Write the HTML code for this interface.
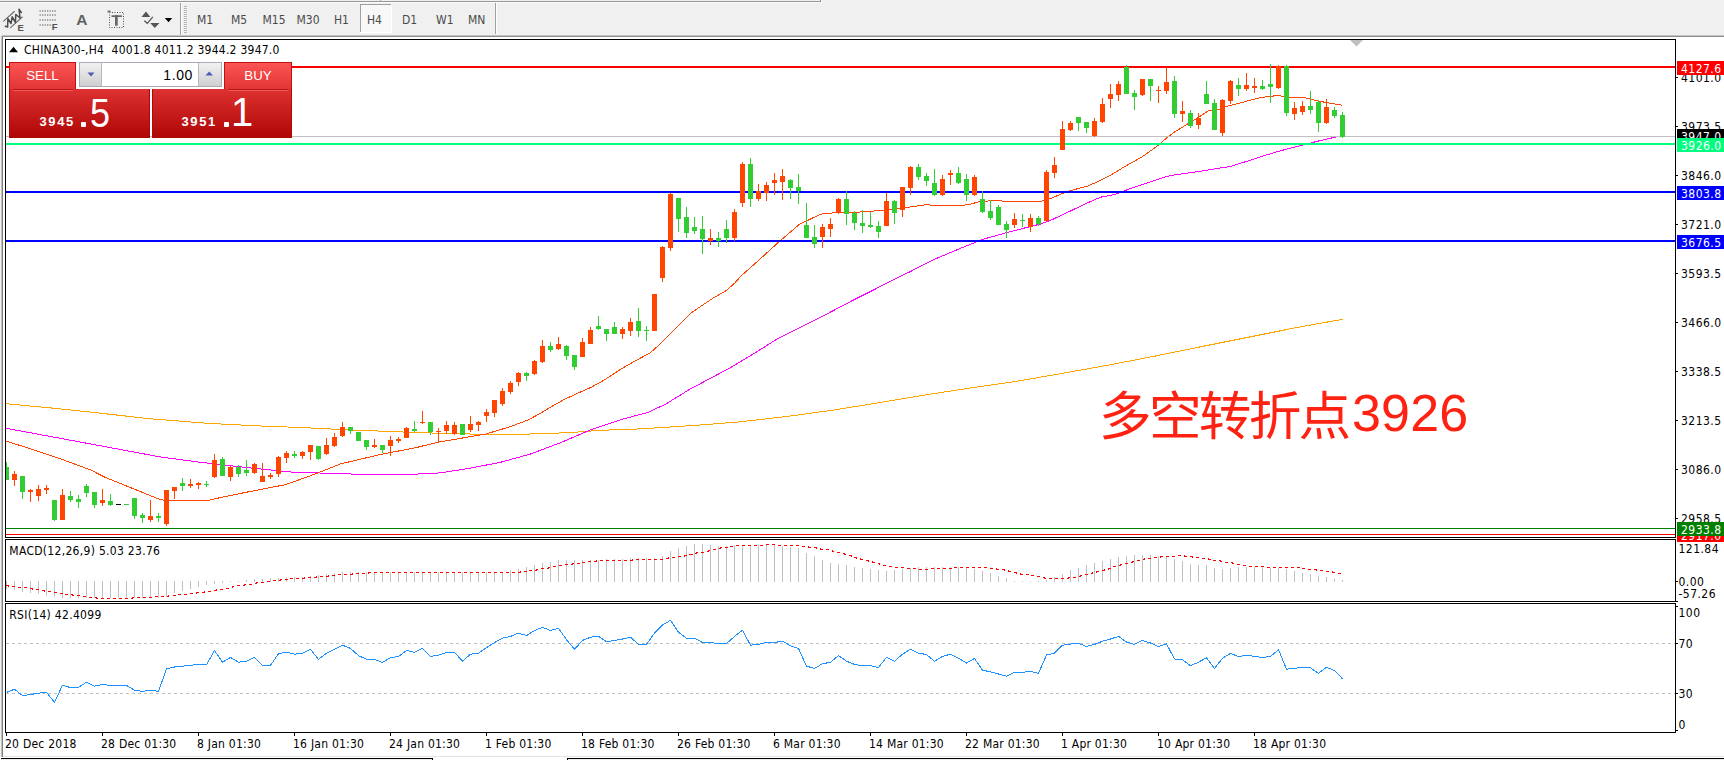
<!DOCTYPE html>
<html lang="en"><head><meta charset="utf-8"><title>CHINA300-,H4</title>
<style>
html,body{margin:0;padding:0;}
body{width:1724px;height:760px;overflow:hidden;background:#fff;position:relative;font-family:"Liberation Sans",sans-serif;font-size:12px;color:#000;}
.abs{position:absolute;}
.t{position:absolute;white-space:nowrap;line-height:14px;height:14px;font-size:12px;letter-spacing:0.25px;color:#000;font-family:"DejaVu Sans Condensed","DejaVu Sans","Liberation Sans",sans-serif;font-stretch:condensed;}
.ax{position:absolute;left:1681px;white-space:nowrap;line-height:14px;height:14px;font-size:12px;letter-spacing:0.45px;color:#000;font-family:"DejaVu Sans Condensed","DejaVu Sans","Liberation Sans",sans-serif;font-stretch:condensed;}
.lb{position:absolute;left:1677px;width:47px;height:14px;line-height:16px;font-size:12px;letter-spacing:0.45px;color:#fff;white-space:nowrap;text-indent:4px;overflow:hidden;font-family:"DejaVu Sans Condensed","DejaVu Sans","Liberation Sans",sans-serif;font-stretch:condensed;}
.tf{position:absolute;top:12px;height:16px;line-height:16px;font-size:12px;color:#4a4a4a;white-space:nowrap;font-family:"DejaVu Sans Condensed","DejaVu Sans","Liberation Sans",sans-serif;font-stretch:condensed;}
.dt{position:absolute;top:737px;white-space:nowrap;line-height:14px;height:14px;font-size:12px;letter-spacing:0.24px;color:#000;font-family:"DejaVu Sans Condensed","DejaVu Sans","Liberation Sans",sans-serif;font-stretch:condensed;}
svg{position:absolute;left:0;top:0;}
</style></head>
<body>
<div class="abs" style="left:0;top:0;width:1724px;height:35px;background:#f0f0f0;"></div>
<div class="abs" style="left:0;top:1px;width:821px;height:1px;background:#989898;"></div>
<div class="abs" style="left:0;top:2px;width:822px;height:1px;background:#fbfbfb;"></div>
<div class="abs" style="left:380px;top:0;width:1px;height:2px;background:#a6a6a6;"></div>
<div class="abs" style="left:820px;top:0;width:1px;height:2px;background:#909090;"></div>
<div class="abs" style="left:821px;top:0;width:1px;height:3px;background:#fbfbfb;"></div>
<div class="abs" style="left:0;top:35px;width:1724px;height:1px;background:#c4c4c4;"></div>
<div class="abs" style="left:0;top:36px;width:1724px;height:1px;background:#8c8c8c;"></div>
<div class="abs" style="left:0;top:35px;width:2px;height:722px;background:#f0f0f0;"></div>
<div class="abs" style="left:1px;top:36px;width:1px;height:721px;background:#c0c0c0;"></div>
<div class="abs" style="left:2px;top:36px;width:1px;height:721px;background:#808080;"></div>
<div class="abs" style="left:3px;top:756px;width:1721px;height:1px;background:#e3e3e3;"></div>
<div class="abs" style="left:1px;top:758px;width:432px;height:1px;background:#000;"></div>
<div class="abs" style="left:432px;top:758px;width:1px;height:2px;background:#000;"></div>
<div class="abs" style="left:567px;top:758px;width:1157px;height:1px;background:#000;"></div>
<div class="abs" style="left:567px;top:758px;width:1px;height:2px;background:#000;"></div>
<div class="abs" style="left:0;top:759px;width:432px;height:1px;background:#f0f0f0;"></div>
<div class="abs" style="left:568px;top:759px;width:1156px;height:1px;background:#f0f0f0;"></div>
<svg width="520" height="36" viewBox="0 0 520 36"><g fill="none" stroke-linecap="round" stroke-linejoin="round"><path d="M3.6 21.2 L14.4 11.5 M10.5 27.7 L22.3 17" stroke="#6a6a6a" stroke-width="1.1"/><path d="M5.3 26.3 L7.6 27 L7.9 18.6 L11 23.5 L12.2 16.8 L15.4 22.4 L15.8 14.5 L20.1 18 L19 9.3 L21.3 12.5" stroke="#4c4c4c" stroke-width="1.5"/></g><line x1="39.5" y1="11" x2="56" y2="11" stroke="#505050" stroke-width="1.2" stroke-dasharray="1.3 1.2"/><line x1="39.5" y1="15" x2="56" y2="15" stroke="#505050" stroke-width="1.2" stroke-dasharray="1.3 1.2"/><line x1="39.5" y1="20" x2="56" y2="20" stroke="#505050" stroke-width="1.2" stroke-dasharray="1.3 1.2"/><line x1="39.5" y1="25" x2="51" y2="25" stroke="#505050" stroke-width="1.2" stroke-dasharray="1.3 1.2"/><rect x="109.5" y="12.5" width="14" height="15" fill="none" stroke="#555" stroke-width="1" stroke-dasharray="1 1.5"/><rect x="107.5" y="10.5" width="3" height="2" fill="#777"/><rect x="111.5" y="15.3" width="10.4" height="1.7" fill="#666"/><rect x="115" y="15.3" width="2.7" height="10.4" fill="#666"/><path d="M141.5 17 L146 11.5 L150.3 17 Z" fill="#555"/><path d="M150.2 23 L159.5 23 L154.8 28 Z" fill="#555"/><path d="M144.3 20.8 L147.3 23.3 L152.8 16.8" fill="none" stroke="#555" stroke-width="1.3"/><path d="M164.8 18 L172.2 18 L168.5 22.2 Z" fill="#000"/><rect x="180" y="3" width="1" height="32" fill="#a0a0a0"/><rect x="181" y="3" width="1" height="32" fill="#fdfdfd"/><rect x="184" y="6" width="3" height="1" fill="#b4b4b4"/><rect x="184" y="8" width="3" height="1" fill="#b4b4b4"/><rect x="184" y="10" width="3" height="1" fill="#b4b4b4"/><rect x="184" y="12" width="3" height="1" fill="#b4b4b4"/><rect x="184" y="14" width="3" height="1" fill="#b4b4b4"/><rect x="184" y="16" width="3" height="1" fill="#b4b4b4"/><rect x="184" y="18" width="3" height="1" fill="#b4b4b4"/><rect x="184" y="20" width="3" height="1" fill="#b4b4b4"/><rect x="184" y="22" width="3" height="1" fill="#b4b4b4"/><rect x="184" y="24" width="3" height="1" fill="#b4b4b4"/><rect x="184" y="26" width="3" height="1" fill="#b4b4b4"/><rect x="184" y="28" width="3" height="1" fill="#b4b4b4"/><rect x="184" y="30" width="3" height="1" fill="#b4b4b4"/><rect x="184" y="32" width="3" height="1" fill="#b4b4b4"/><rect x="495" y="3" width="1" height="31" fill="#a0a0a0"/><rect x="496" y="3" width="1" height="31" fill="#fdfdfd"/><rect x="360" y="4" width="31" height="29" fill="#f8f8f8"/><rect x="360" y="4" width="31" height="1" fill="#a0a0a0"/><rect x="360" y="4" width="1" height="29" fill="#a0a0a0"/><rect x="391" y="4" width="1" height="29" fill="#fff"/><rect x="360" y="32" width="31" height="1" fill="#fff"/></svg>
<div class="abs" style="left:17.6px;top:22.6px;font-size:9.5px;font-weight:bold;line-height:10px;color:#505050;">E</div>
<div class="abs" style="left:51.8px;top:22.4px;font-size:9.5px;font-weight:bold;line-height:10px;color:#505050;">F</div>
<div class="abs" style="left:76.3px;top:10.6px;font-size:15.5px;font-weight:bold;line-height:18px;color:#606060;">A</div>
<div class="tf" style="left:197px;">M1</div>
<div class="tf" style="left:231px;">M5</div>
<div class="tf" style="left:262.5px;">M15</div>
<div class="tf" style="left:296.5px;">M30</div>
<div class="tf" style="left:334px;">H1</div>
<div class="tf" style="left:367px;">H4</div>
<div class="tf" style="left:402px;">D1</div>
<div class="tf" style="left:436px;">W1</div>
<div class="tf" style="left:468px;">MN</div>
<svg width="1724" height="760" viewBox="0 0 1724 760" shape-rendering="crispEdges"><rect x="3" y="37" width="1721" height="719" fill="#fff"/><path d="M1350 40 L1363 40 L1356.5 46.5 Z" fill="#c0c0c0" shape-rendering="auto"/><polyline fill="none" stroke="#ffa500" stroke-width="1" points="5.5,403.7 50.5,407.9 90.5,412.1 150.5,418.8 210.5,423.5 260.5,426.0 300.5,427.5 340.5,429.5 380.5,431.1 420.5,432.7 470.5,434.0 530.5,434.0 570.5,432.6 600.5,430.3 640.5,428.9 700.5,425.0 740.5,421.8 790.5,416.0 832.5,410.2 880.5,402.5 925.5,394.9 970.5,388.0 1018.5,381.0 1065.5,372.8 1110.5,364.7 1155.5,356.0 1203.5,346.2 1250.5,336.8 1296.5,327.6 1342.5,319.3"/><polyline fill="none" stroke="#ff00ff" stroke-width="1" points="5.5,428.2 50.5,436.5 100.5,445.8 160.5,457.0 200.5,462.3 250.5,468.0 290.5,472.0 340.5,473.7 380.5,474.9 410.5,474.4 440.5,472.9 470.5,468.1 500.5,462.3 530.5,454.0 560.5,442.7 590.5,429.9 620.5,419.7 647.9,412.4 665.0,404.5 688.9,389.8 729.9,367.9 757.3,351.5 777.8,338.5 798.3,328.2 825.7,314.6 853.1,300.2 880.4,286.5 911.2,271.1 935.1,259.0 962.5,247.5 983.0,239.3 1007.0,232.5 1030.5,226.5 1040.5,224.0 1050.5,220.4 1070.5,211.0 1085.5,203.7 1100.5,197.2 1115.5,194.3 1130.5,188.5 1145.5,183.5 1160.5,178.4 1170.5,175.5 1185.5,173.3 1200.5,171.2 1215.5,168.7 1230.5,166.5 1245.5,161.7 1260.5,156.7 1280.5,150.8 1300.5,145.6 1320.5,140.5 1342.5,135.5"/><polyline fill="none" stroke="#ff4500" stroke-width="1" points="5.5,440.9 30.5,448.8 62.5,459.6 90.5,469.9 105.5,477.5 135.5,489.6 158.5,498.9 165.5,500.7 207.5,500.7 220.5,497.5 245.5,492.4 270.5,487.5 285.5,484.7 315.5,473.9 340.5,463.9 380.5,454.5 416.5,447.5 438.5,442.1 485.5,434.1 509.0,427.1 528.1,420.0 540.9,413.0 553.5,405.4 565.1,399.0 579.2,392.6 591.9,386.9 604.5,379.9 619.5,370.0 635.3,360.8 650.1,352.9 659.0,345.0 666.9,337.1 680.7,323.3 690.5,313.4 700.5,306.5 712.3,298.6 726.1,290.7 735.0,282.8 740.5,276.5 758.5,260.5 777.5,243.1 799.5,224.3 820.5,214.2 835.5,212.7 860.5,212.0 880.5,210.5 905.5,207.7 925.5,204.8 950.5,205.9 968.5,204.8 980.5,201.2 1000.5,200.7 1005.5,201.9 1040.5,201.3 1050.5,198.7 1060.5,194.3 1067.5,191.4 1087.5,186.1 1095.5,182.7 1110.5,175.2 1125.5,166.1 1140.5,157.8 1145.5,154.5 1157.5,145.8 1168.5,136.4 1175.5,131.4 1187.5,124.1 1200.5,116.0 1208.5,110.7 1215.5,110.5 1227.5,106.2 1260.5,97.6 1278.5,95.4 1290.5,97.9 1305.5,97.9 1320.5,101.5 1342.5,105.2"/><rect x="6" y="66" width="1669" height="2" fill="#ff0000"/><rect x="6" y="136" width="1669" height="1" fill="#c0c0c0"/><rect x="6" y="143" width="1669" height="2" fill="#00ff7f"/><rect x="6" y="191" width="1669" height="2" fill="#0000ff"/><rect x="6" y="240" width="1669" height="2" fill="#0000ff"/><rect x="6" y="528" width="1669" height="1" fill="#008000"/><rect x="6" y="534" width="1669" height="1" fill="#ff0000"/><path fill="#ff4500" d="M12 474h5v6h-5zM14 471h1v15h-1zM28 490h5v2h-5zM30 489h1v13h-1zM36 489h5v7h-5zM38 485h1v16h-1zM44 488h5v2h-5zM46 485h1v9h-1zM60 495h5v25h-5zM62 489h1v31h-1zM100 500h5v3h-5zM102 489h1v17h-1zM148 516h5v4h-5zM150 500h1v22h-1zM164 490h5v34h-5zM166 490h1v36h-1zM172 487h5v4h-5zM174 487h1v12h-1zM188 484h5v2h-5zM190 479h1v9h-1zM196 483h5v2h-5zM198 482h1v7h-1zM212 460h5v17h-5zM214 454h1v24h-1zM228 467h5v10h-5zM230 466h1v15h-1zM252 464h5v9h-5zM254 463h1v11h-1zM260 476h5v6h-5zM262 463h1v19h-1zM268 475h5v2h-5zM270 473h1v6h-1zM276 457h5v17h-5zM278 456h1v21h-1zM284 453h5v5h-5zM286 451h1v12h-1zM300 452h5v4h-5zM302 451h1v8h-1zM308 445h5v7h-5zM310 445h1v15h-1zM324 445h5v9h-5zM326 438h1v17h-1zM332 437h5v9h-5zM334 433h1v14h-1zM340 427h5v9h-5zM342 422h1v15h-1zM372 445h5v2h-5zM374 439h1v9h-1zM388 440h5v6h-5zM390 436h1v20h-1zM396 439h5v2h-5zM398 437h1v6h-1zM404 428h5v10h-5zM406 427h1v11h-1zM420 422h5v1h-5zM422 411h1v13h-1zM436 431h5v1h-5zM438 428h1v14h-1zM444 425h5v6h-5zM446 421h1v13h-1zM452 425h5v9h-5zM454 422h1v13h-1zM468 424h5v6h-5zM470 416h1v16h-1zM476 422h5v3h-5zM478 421h1v10h-1zM484 412h5v4h-5zM486 409h1v13h-1zM492 400h5v13h-5zM494 400h1v17h-1zM500 391h5v13h-5zM502 388h1v18h-1zM508 383h5v9h-5zM510 381h1v13h-1zM516 373h5v9h-5zM518 372h1v14h-1zM532 361h5v13h-5zM534 360h1v15h-1zM540 346h5v16h-5zM542 340h1v23h-1zM556 344h5v5h-5zM558 337h1v13h-1zM580 342h5v15h-5zM582 338h1v19h-1zM588 330h5v14h-5zM590 327h1v17h-1zM620 329h5v5h-5zM622 327h1v12h-1zM628 322h5v9h-5zM630 318h1v18h-1zM652 294h5v37h-5zM660 247h5v31h-5zM662 246h1v36h-1zM668 194h5v54h-5zM670 193h1v58h-1zM708 238h5v3h-5zM710 229h1v16h-1zM732 212h5v26h-5zM734 209h1v32h-1zM740 164h5v39h-5zM742 162h1v45h-1zM756 191h5v8h-5zM758 184h1v17h-1zM764 185h5v8h-5zM766 182h1v19h-1zM772 180h5v3h-5zM774 173h1v22h-1zM780 176h5v6h-5zM782 169h1v31h-1zM820 227h5v10h-5zM822 224h1v24h-1zM828 224h5v5h-5zM830 218h1v19h-1zM836 199h5v14h-5zM838 198h1v16h-1zM884 201h5v25h-5zM886 193h1v33h-1zM900 187h5v23h-5zM902 187h1v30h-1zM908 167h5v21h-5zM910 166h1v29h-1zM940 179h5v16h-5zM942 175h1v21h-1zM948 173h5v2h-5zM950 170h1v15h-1zM972 177h5v18h-5zM974 175h1v21h-1zM1012 219h5v6h-5zM1014 213h1v15h-1zM1028 218h5v9h-5zM1030 214h1v18h-1zM1044 172h5v49h-5zM1046 170h1v51h-1zM1052 165h5v8h-5zM1054 157h1v21h-1zM1060 129h5v21h-5zM1062 121h1v29h-1zM1068 123h5v7h-5zM1070 121h1v10h-1zM1092 121h5v15h-5zM1094 118h1v19h-1zM1100 104h5v18h-5zM1102 98h1v25h-1zM1108 94h5v5h-5zM1110 84h1v24h-1zM1116 84h5v11h-5zM1118 81h1v20h-1zM1140 79h5v16h-5zM1142 79h1v17h-1zM1156 90h5v1h-5zM1158 86h1v17h-1zM1164 82h5v9h-5zM1166 67h1v27h-1zM1180 111h5v3h-5zM1182 101h1v21h-1zM1196 118h5v7h-5zM1198 113h1v16h-1zM1220 100h5v33h-5zM1222 99h1v37h-1zM1228 81h5v20h-5zM1230 80h1v24h-1zM1244 85h5v4h-5zM1246 73h1v18h-1zM1252 86h5v2h-5zM1254 78h1v15h-1zM1276 66h5v22h-5zM1278 65h1v24h-1zM1292 108h5v6h-5zM1294 102h1v18h-1zM1300 106h5v6h-5zM1302 101h1v14h-1zM1324 107h5v16h-5zM1326 99h1v25h-1z"/><path fill="#32cd32" d="M6 467h3v13h-3zM6 462h1v18h-1zM20 476h5v16h-5zM22 476h1v23h-1zM52 500h5v20h-5zM54 500h1v21h-1zM68 496h5v4h-5zM70 491h1v11h-1zM76 499h5v3h-5zM78 495h1v13h-1zM84 486h5v7h-5zM86 484h1v13h-1zM92 492h5v13h-5zM94 492h1v16h-1zM108 501h5v4h-5zM110 494h1v12h-1zM124 504h5v1h-5zM132 498h5v18h-5zM134 498h1v21h-1zM140 515h5v3h-5zM142 513h1v10h-1zM156 516h5v2h-5zM158 513h1v9h-1zM180 483h5v3h-5zM182 478h1v13h-1zM204 484h5v1h-5zM206 481h1v6h-1zM220 459h5v17h-5zM222 457h1v19h-1zM236 467h5v7h-5zM238 465h1v12h-1zM244 470h5v3h-5zM246 460h1v16h-1zM292 454h5v2h-5zM294 451h1v7h-1zM316 446h5v13h-5zM318 446h1v14h-1zM348 427h5v4h-5zM350 427h1v7h-1zM356 432h5v9h-5zM364 440h5v7h-5zM366 440h1v10h-1zM380 445h5v5h-5zM382 445h1v8h-1zM412 429h5v2h-5zM414 421h1v11h-1zM428 422h5v10h-5zM430 422h1v13h-1zM460 424h5v11h-5zM524 373h5v3h-5zM526 372h1v9h-1zM548 346h5v4h-5zM550 342h1v10h-1zM564 346h5v10h-5zM566 345h1v15h-1zM572 355h5v12h-5zM574 355h1v15h-1zM596 326h5v3h-5zM598 316h1v14h-1zM604 329h5v5h-5zM606 329h1v12h-1zM612 327h5v7h-5zM614 322h1v12h-1zM636 321h5v10h-5zM638 308h1v29h-1zM644 330h5v1h-5zM646 326h1v15h-1zM676 198h5v21h-5zM678 198h1v34h-1zM684 217h5v16h-5zM686 207h1v31h-1zM692 227h5v4h-5zM694 217h1v17h-1zM700 229h5v10h-5zM702 216h1v38h-1zM716 238h5v3h-5zM718 232h1v15h-1zM724 229h5v9h-5zM726 220h1v23h-1zM748 164h5v35h-5zM750 158h1v49h-1zM788 180h5v8h-5zM790 179h1v20h-1zM796 187h5v4h-5zM798 174h1v30h-1zM804 225h5v13h-5zM806 203h1v35h-1zM812 237h5v7h-5zM814 225h1v23h-1zM844 199h5v15h-5zM846 191h1v34h-1zM852 213h5v10h-5zM854 211h1v19h-1zM860 223h5v3h-5zM862 210h1v23h-1zM868 225h5v2h-5zM870 212h1v16h-1zM876 226h5v6h-5zM878 221h1v17h-1zM892 201h5v12h-5zM894 200h1v24h-1zM916 167h5v10h-5zM918 164h1v16h-1zM924 176h5v5h-5zM926 173h1v13h-1zM932 183h5v12h-5zM934 169h1v27h-1zM956 173h5v10h-5zM958 167h1v17h-1zM964 179h5v16h-5zM966 174h1v27h-1zM980 199h5v13h-5zM982 191h1v22h-1zM988 211h5v7h-5zM990 200h1v20h-1zM996 207h5v18h-5zM998 205h1v20h-1zM1004 224h5v6h-5zM1006 221h1v17h-1zM1020 220h5v1h-5zM1022 214h1v13h-1zM1036 218h5v6h-5zM1038 216h1v10h-1zM1076 117h5v6h-5zM1078 117h1v14h-1zM1084 122h5v6h-5zM1086 122h1v11h-1zM1124 67h5v27h-5zM1126 65h1v29h-1zM1132 93h5v4h-5zM1134 90h1v20h-1zM1148 79h5v7h-5zM1150 79h1v22h-1zM1172 81h5v33h-5zM1174 76h1v42h-1zM1188 113h5v13h-5zM1190 110h1v18h-1zM1204 94h5v10h-5zM1206 81h1v23h-1zM1212 103h5v27h-5zM1214 99h1v31h-1zM1236 85h5v4h-5zM1238 78h1v18h-1zM1260 86h5v3h-5zM1262 80h1v10h-1zM1268 84h5v3h-5zM1270 64h1v39h-1zM1284 66h5v47h-5zM1286 65h1v51h-1zM1308 106h5v4h-5zM1310 91h1v23h-1zM1316 102h5v21h-5zM1318 100h1v32h-1zM1332 110h5v6h-5zM1334 107h1v11h-1zM1340 115h5v22h-5zM1342 112h1v26h-1z"/><path fill="#000" d="M116 504h5v1h-5z"/><path fill="#c0c0c0" d="M6 581h1v8h-1zM14 581h1v9h-1zM22 581h1v11h-1zM30 581h1v12h-1zM38 581h1v13h-1zM46 581h1v15h-1zM54 581h1v16h-1zM62 581h1v17h-1zM70 581h1v17h-1zM78 581h1v17h-1zM86 581h1v17h-1zM94 581h1v17h-1zM102 581h1v17h-1zM110 581h1v17h-1zM118 581h1v17h-1zM126 581h1v17h-1zM134 581h1v17h-1zM142 581h1v17h-1zM150 581h1v17h-1zM158 581h1v17h-1zM166 581h1v16h-1zM174 581h1v12h-1zM182 581h1v10h-1zM190 581h1v8h-1zM198 581h1v6h-1zM206 581h1v4h-1zM214 581h1v3h-1zM222 581h1v2h-1zM230 581h1v1h-1zM238 581h1v1h-1zM246 580h1v2h-1zM254 579h1v3h-1zM262 579h1v3h-1zM270 578h1v4h-1zM278 578h1v4h-1zM286 577h1v5h-1zM294 577h1v5h-1zM302 577h1v5h-1zM310 576h1v6h-1zM318 575h1v7h-1zM326 574h1v8h-1zM334 573h1v9h-1zM342 572h1v10h-1zM350 572h1v10h-1zM358 572h1v10h-1zM366 572h1v10h-1zM374 572h1v10h-1zM382 572h1v10h-1zM390 572h1v10h-1zM398 572h1v10h-1zM406 572h1v10h-1zM414 572h1v10h-1zM422 572h1v10h-1zM430 572h1v10h-1zM438 572h1v10h-1zM446 572h1v10h-1zM454 572h1v10h-1zM462 572h1v10h-1zM470 572h1v10h-1zM478 572h1v10h-1zM486 572h1v10h-1zM494 572h1v10h-1zM502 572h1v10h-1zM510 570h1v12h-1zM518 569h1v13h-1zM526 567h1v15h-1zM534 565h1v17h-1zM542 563h1v19h-1zM550 562h1v20h-1zM558 560h1v22h-1zM566 560h1v22h-1zM574 560h1v22h-1zM582 560h1v22h-1zM590 560h1v22h-1zM598 560h1v22h-1zM606 559h1v23h-1zM614 559h1v23h-1zM622 559h1v23h-1zM630 558h1v24h-1zM638 558h1v24h-1zM646 558h1v24h-1zM654 558h1v24h-1zM662 556h1v26h-1zM670 551h1v31h-1zM678 548h1v34h-1zM686 546h1v36h-1zM694 544h1v38h-1zM702 544h1v38h-1zM710 545h1v37h-1zM718 546h1v36h-1zM726 546h1v36h-1zM734 545h1v37h-1zM742 545h1v37h-1zM750 545h1v37h-1zM758 545h1v37h-1zM766 544h1v38h-1zM774 545h1v37h-1zM782 546h1v36h-1zM790 547h1v35h-1zM798 548h1v34h-1zM806 553h1v29h-1zM814 556h1v26h-1zM822 560h1v22h-1zM830 563h1v19h-1zM838 564h1v18h-1zM846 565h1v17h-1zM854 567h1v15h-1zM862 568h1v14h-1zM870 569h1v13h-1zM878 570h1v12h-1zM886 571h1v11h-1zM894 570h1v12h-1zM902 569h1v13h-1zM910 568h1v14h-1zM918 567h1v15h-1zM926 567h1v15h-1zM934 567h1v15h-1zM942 567h1v15h-1zM950 567h1v15h-1zM958 567h1v15h-1zM966 567h1v15h-1zM974 569h1v13h-1zM982 571h1v11h-1zM990 573h1v9h-1zM998 576h1v6h-1zM1006 578h1v4h-1zM1014 581h1v1h-1zM1022 581h1v1h-1zM1030 581h1v1h-1zM1038 581h1v1h-1zM1046 580h1v2h-1zM1054 577h1v5h-1zM1062 574h1v8h-1zM1070 570h1v12h-1zM1078 568h1v14h-1zM1086 565h1v17h-1zM1094 563h1v19h-1zM1102 561h1v21h-1zM1110 559h1v23h-1zM1118 557h1v25h-1zM1126 556h1v26h-1zM1134 555h1v27h-1zM1142 555h1v27h-1zM1150 555h1v27h-1zM1158 556h1v26h-1zM1166 557h1v25h-1zM1174 559h1v23h-1zM1182 561h1v21h-1zM1190 564h1v18h-1zM1198 565h1v17h-1zM1206 565h1v17h-1zM1214 568h1v14h-1zM1222 569h1v13h-1zM1230 568h1v14h-1zM1238 567h1v15h-1zM1246 567h1v15h-1zM1254 567h1v15h-1zM1262 567h1v15h-1zM1270 568h1v14h-1zM1278 568h1v14h-1zM1286 569h1v13h-1zM1294 571h1v11h-1zM1302 573h1v9h-1zM1310 574h1v8h-1zM1318 576h1v6h-1zM1326 577h1v5h-1zM1334 579h1v3h-1zM1342 580h1v2h-1z"/><polyline fill="none" stroke="#ff0000" stroke-width="1" stroke-dasharray="3 3" points="6.5,585.5 10.5,586.5 14.5,586.5 18.5,587.5 22.5,587.5 26.5,587.5 30.5,588.5 34.5,589.5 38.5,589.5 42.5,590.5 46.5,591.5 50.5,591.5 54.5,592.5 58.5,593.5 62.5,593.5 66.5,594.5 70.5,594.5 74.5,595.5 78.5,595.5 82.5,596.5 86.5,596.5 90.5,597.5 94.5,597.5 98.5,598.5 102.5,598.5 106.5,598.5 110.5,598.5 114.5,598.5 118.5,598.5 122.5,598.5 126.5,598.5 130.5,598.5 134.5,597.5 138.5,597.5 142.5,597.5 146.5,597.5 150.5,597.5 154.5,596.5 158.5,596.5 162.5,596.5 166.5,596.5 170.5,595.5 174.5,595.5 178.5,594.5 182.5,594.5 186.5,594.5 190.5,593.5 194.5,593.5 198.5,592.5 202.5,592.5 206.5,591.5 210.5,591.5 214.5,590.5 218.5,589.5 222.5,589.5 226.5,588.5 230.5,587.5 234.5,586.5 238.5,585.5 242.5,585.5 246.5,584.5 250.5,584.5 254.5,583.5 258.5,582.5 262.5,582.5 266.5,581.5 270.5,581.5 274.5,580.5 278.5,580.5 282.5,579.5 286.5,579.5 290.5,578.5 294.5,578.5 298.5,578.5 302.5,578.5 306.5,577.5 310.5,577.5 314.5,577.5 318.5,576.5 322.5,576.5 326.5,576.5 330.5,575.5 334.5,575.5 338.5,574.5 342.5,574.5 346.5,574.5 350.5,574.5 354.5,573.5 358.5,573.5 362.5,573.5 366.5,573.5 370.5,572.5 374.5,572.5 378.5,572.5 382.5,572.5 386.5,572.5 390.5,572.5 394.5,572.5 398.5,572.5 402.5,572.5 406.5,572.5 410.5,572.5 414.5,572.5 418.5,572.5 422.5,572.5 426.5,572.5 430.5,572.5 434.5,572.5 438.5,572.5 442.5,572.5 446.5,572.5 450.5,572.5 454.5,572.5 458.5,572.5 462.5,572.5 466.5,572.5 470.5,572.5 474.5,572.5 478.5,572.5 482.5,572.5 486.5,572.5 490.5,572.5 494.5,572.5 498.5,572.5 502.5,572.5 506.5,572.5 510.5,572.5 514.5,572.5 518.5,572.5 522.5,571.5 526.5,571.5 530.5,570.5 534.5,570.5 538.5,569.5 542.5,568.5 546.5,568.5 550.5,567.5 554.5,566.5 558.5,565.5 562.5,565.5 566.5,564.5 570.5,564.5 574.5,563.5 578.5,563.5 582.5,562.5 586.5,562.5 590.5,561.5 594.5,561.5 598.5,560.5 602.5,560.5 606.5,560.5 610.5,560.5 614.5,560.5 618.5,560.5 622.5,560.5 626.5,560.5 630.5,560.5 634.5,559.5 638.5,559.5 642.5,559.5 646.5,559.5 650.5,559.5 654.5,559.5 658.5,559.5 662.5,559.5 666.5,558.5 670.5,557.5 674.5,557.5 678.5,556.5 682.5,556.5 686.5,555.5 690.5,554.5 694.5,553.5 698.5,552.5 702.5,552.5 706.5,551.5 710.5,550.5 714.5,549.5 718.5,548.5 722.5,547.5 726.5,547.5 730.5,546.5 734.5,546.5 738.5,545.5 742.5,545.5 746.5,545.5 750.5,545.5 754.5,545.5 758.5,545.5 762.5,545.5 766.5,544.5 770.5,544.5 774.5,544.5 778.5,545.5 782.5,545.5 786.5,545.5 790.5,545.5 794.5,545.5 798.5,545.5 802.5,546.5 806.5,546.5 810.5,547.5 814.5,547.5 818.5,548.5 822.5,549.5 826.5,549.5 830.5,550.5 834.5,551.5 838.5,552.5 842.5,553.5 846.5,554.5 850.5,555.5 854.5,557.5 858.5,558.5 862.5,559.5 866.5,560.5 870.5,561.5 874.5,562.5 878.5,563.5 882.5,565.5 886.5,565.5 890.5,566.5 894.5,567.5 898.5,567.5 902.5,567.5 906.5,568.5 910.5,568.5 914.5,568.5 918.5,569.5 922.5,569.5 926.5,569.5 930.5,568.5 934.5,568.5 938.5,568.5 942.5,568.5 946.5,568.5 950.5,568.5 954.5,567.5 958.5,567.5 962.5,567.5 966.5,567.5 970.5,567.5 974.5,567.5 978.5,567.5 982.5,567.5 986.5,567.5 990.5,568.5 994.5,568.5 998.5,569.5 1002.5,569.5 1006.5,570.5 1010.5,571.5 1014.5,572.5 1018.5,573.5 1022.5,574.5 1026.5,574.5 1030.5,575.5 1034.5,575.5 1038.5,576.5 1042.5,577.5 1046.5,578.5 1050.5,578.5 1054.5,578.5 1058.5,578.5 1062.5,578.5 1066.5,578.5 1070.5,577.5 1074.5,577.5 1078.5,576.5 1082.5,575.5 1086.5,574.5 1090.5,573.5 1094.5,572.5 1098.5,571.5 1102.5,570.5 1106.5,569.5 1110.5,568.5 1114.5,566.5 1118.5,565.5 1122.5,564.5 1126.5,563.5 1130.5,562.5 1134.5,561.5 1138.5,560.5 1142.5,559.5 1146.5,558.5 1150.5,558.5 1154.5,557.5 1158.5,557.5 1162.5,556.5 1166.5,556.5 1170.5,556.5 1174.5,556.5 1178.5,555.5 1182.5,555.5 1186.5,556.5 1190.5,556.5 1194.5,557.5 1198.5,557.5 1202.5,558.5 1206.5,558.5 1210.5,559.5 1214.5,560.5 1218.5,560.5 1222.5,561.5 1226.5,562.5 1230.5,562.5 1234.5,563.5 1238.5,564.5 1242.5,565.5 1246.5,565.5 1250.5,566.5 1254.5,566.5 1258.5,566.5 1262.5,566.5 1266.5,567.5 1270.5,567.5 1274.5,567.5 1278.5,567.5 1282.5,567.5 1286.5,567.5 1290.5,567.5 1294.5,567.5 1298.5,567.5 1302.5,568.5 1306.5,568.5 1310.5,569.5 1314.5,569.5 1318.5,570.5 1322.5,570.5 1326.5,571.5 1330.5,571.5 1334.5,572.5 1338.5,573.5 1342.5,573.5"/><line x1="6" y1="643.5" x2="1675" y2="643.5" stroke="#c0c0c0" stroke-width="1" stroke-dasharray="3 3"/><line x1="6" y1="693.5" x2="1675" y2="693.5" stroke="#c0c0c0" stroke-width="1" stroke-dasharray="3 3"/><polyline fill="none" stroke="#1e90ff" stroke-width="1" points="6.5,692.4 14.5,689.2 22.5,695.6 30.5,694.5 38.5,693.2 46.5,692.4 54.5,702.3 62.5,685.2 70.5,687.6 78.5,687.3 86.5,682.2 94.5,686.2 102.5,684.4 110.5,685.4 118.5,685.4 126.5,685.4 134.5,690.2 142.5,691.3 150.5,690.2 158.5,691.3 166.5,668.9 174.5,667.0 182.5,666.2 190.5,665.2 198.5,664.6 206.5,664.6 214.5,650.5 222.5,662.2 230.5,657.4 238.5,662.2 246.5,661.2 254.5,657.4 262.5,665.4 270.5,665.4 278.5,653.7 286.5,652.1 294.5,654.2 302.5,653.2 310.5,649.4 318.5,659.3 326.5,653.2 334.5,649.2 342.5,645.2 350.5,648.4 358.5,655.6 366.5,659.3 374.5,659.3 382.5,662.5 390.5,657.7 398.5,656.4 406.5,650.5 414.5,652.4 422.5,648.4 430.5,656.4 438.5,655.3 446.5,652.4 454.5,652.4 462.5,661.2 470.5,654.2 478.5,653.2 486.5,647.6 494.5,642.5 502.5,638.2 510.5,636.4 518.5,633.1 526.5,635.6 534.5,630.5 542.5,627.3 550.5,630.5 558.5,628.3 566.5,639.8 574.5,649.2 582.5,640.4 590.5,637.2 598.5,636.4 606.5,641.7 614.5,640.4 622.5,639.0 630.5,637.2 638.5,644.4 646.5,644.4 654.5,633.1 662.5,625.1 670.5,620.3 678.5,632.3 686.5,638.2 694.5,638.2 702.5,642.5 710.5,642.5 718.5,643.6 726.5,643.6 734.5,636.4 742.5,630.2 750.5,645.2 758.5,644.4 766.5,642.5 774.5,642.5 782.5,641.2 790.5,645.7 798.5,648.4 806.5,666.2 814.5,668.4 822.5,663.8 830.5,662.2 838.5,655.6 846.5,661.2 854.5,664.4 862.5,665.7 870.5,665.7 878.5,667.6 886.5,657.2 894.5,661.2 902.5,654.2 910.5,649.2 918.5,653.2 926.5,654.5 934.5,661.2 942.5,656.4 950.5,654.2 958.5,658.2 966.5,663.0 974.5,658.5 982.5,670.2 990.5,671.8 998.5,674.0 1006.5,676.1 1014.5,672.4 1022.5,672.4 1030.5,671.3 1038.5,673.4 1046.5,655.0 1054.5,653.2 1062.5,645.2 1070.5,644.1 1078.5,643.3 1086.5,646.5 1094.5,644.4 1102.5,641.2 1110.5,639.0 1118.5,636.4 1126.5,642.0 1134.5,644.4 1142.5,640.4 1150.5,643.0 1158.5,646.5 1166.5,643.8 1174.5,659.0 1182.5,659.6 1190.5,665.7 1198.5,662.2 1206.5,657.7 1214.5,668.4 1222.5,658.2 1230.5,653.4 1238.5,656.6 1246.5,655.3 1254.5,656.4 1262.5,657.4 1270.5,656.4 1278.5,649.7 1286.5,669.2 1294.5,668.4 1302.5,667.3 1310.5,667.8 1318.5,673.4 1326.5,667.3 1334.5,670.5 1342.5,678.8"/><rect x="5" y="39" width="1671" height="1" fill="#000"/><rect x="5" y="537" width="1671" height="1" fill="#000"/><rect x="5" y="39" width="1" height="499" fill="#000"/><rect x="1675" y="39" width="1" height="499" fill="#000"/><rect x="5" y="539" width="1671" height="1" fill="#000"/><rect x="5" y="601" width="1671" height="1" fill="#000"/><rect x="5" y="539" width="1" height="63" fill="#000"/><rect x="1675" y="539" width="1" height="63" fill="#000"/><rect x="5" y="603" width="1671" height="1" fill="#000"/><rect x="5" y="732" width="1671" height="1" fill="#000"/><rect x="5" y="603" width="1" height="130" fill="#000"/><rect x="1675" y="603" width="1" height="130" fill="#000"/><rect x="1676" y="77" width="2" height="1" fill="#000"/><rect x="1676" y="126" width="2" height="1" fill="#000"/><rect x="1676" y="175" width="2" height="1" fill="#000"/><rect x="1676" y="224" width="2" height="1" fill="#000"/><rect x="1676" y="273" width="2" height="1" fill="#000"/><rect x="1676" y="322" width="2" height="1" fill="#000"/><rect x="1676" y="371" width="2" height="1" fill="#000"/><rect x="1676" y="420" width="2" height="1" fill="#000"/><rect x="1676" y="469" width="2" height="1" fill="#000"/><rect x="1676" y="518" width="2" height="1" fill="#000"/><rect x="1676" y="581" width="2" height="1" fill="#000"/><rect x="1676" y="601" width="2" height="1" fill="#000"/><rect x="1676" y="606" width="2" height="1" fill="#000"/><rect x="1676" y="643" width="2" height="1" fill="#000"/><rect x="1676" y="693" width="2" height="1" fill="#000"/><rect x="1676" y="730" width="2" height="1" fill="#000"/><rect x="6" y="733" width="1" height="3" fill="#000"/><rect x="102" y="733" width="1" height="3" fill="#000"/><rect x="198" y="733" width="1" height="3" fill="#000"/><rect x="294" y="733" width="1" height="3" fill="#000"/><rect x="390" y="733" width="1" height="3" fill="#000"/><rect x="486" y="733" width="1" height="3" fill="#000"/><rect x="582" y="733" width="1" height="3" fill="#000"/><rect x="678" y="733" width="1" height="3" fill="#000"/><rect x="774" y="733" width="1" height="3" fill="#000"/><rect x="870" y="733" width="1" height="3" fill="#000"/><rect x="966" y="733" width="1" height="3" fill="#000"/><rect x="1062" y="733" width="1" height="3" fill="#000"/><rect x="1158" y="733" width="1" height="3" fill="#000"/><rect x="1254" y="733" width="1" height="3" fill="#000"/><path d="M9 52.2 L18 52.2 L13.5 46.8 Z" fill="#000" shape-rendering="auto"/></svg>
<div class="t" style="left:24px;top:43px;">CHINA300-,H4&nbsp; 4001.8 4011.2 3944.2 3947.0</div>
<div class="t" style="left:9.3px;top:544px;letter-spacing:0.3px;">MACD(12,26,9) 5.03 23.76</div>
<div class="t" style="left:9.3px;top:608px;letter-spacing:0.3px;">RSI(14) 42.4099</div>
<div class="ax" style="top:71px;">4101.0</div>
<div class="ax" style="top:120px;">3973.5</div>
<div class="ax" style="top:169px;">3846.0</div>
<div class="ax" style="top:218px;">3721.0</div>
<div class="ax" style="top:267px;">3593.5</div>
<div class="ax" style="top:316px;">3466.0</div>
<div class="ax" style="top:365px;">3338.5</div>
<div class="ax" style="top:414px;">3213.5</div>
<div class="ax" style="top:463px;">3086.0</div>
<div class="ax" style="top:512px;">2958.5</div>
<div class="ax" style="top:542.3px;left:1678.5px;">121.84</div>
<div class="ax" style="top:575px;left:1678.5px;">0.00</div>
<div class="ax" style="top:587px;left:1678.5px;">-57.26</div>
<div class="ax" style="top:606px;left:1678.5px;">100</div>
<div class="ax" style="top:637px;left:1678.5px;">70</div>
<div class="ax" style="top:687px;left:1678.5px;">30</div>
<div class="ax" style="top:718px;left:1678.5px;">0</div>
<div class="lb" style="top:61px;background:#ff0000;">4127.6</div>
<div class="lb" style="top:129px;background:#000;">3947.0</div>
<div class="lb" style="top:138px;background:#00ff7f;">3926.0</div>
<div class="lb" style="top:186px;background:#0000ff;">3803.8</div>
<div class="lb" style="top:235px;background:#0000ff;">3676.5</div>
<div class="lb" style="top:528px;background:#ff0000;">2917.0</div>
<div class="lb" style="top:522px;background:#008000;">2933.8</div>
<div class="dt" style="left:5px;">20 Dec 2018</div>
<div class="dt" style="left:101px;">28 Dec 01:30</div>
<div class="dt" style="left:197px;">8 Jan 01:30</div>
<div class="dt" style="left:293px;">16 Jan 01:30</div>
<div class="dt" style="left:389px;">24 Jan 01:30</div>
<div class="dt" style="left:485px;">1 Feb 01:30</div>
<div class="dt" style="left:581px;">18 Feb 01:30</div>
<div class="dt" style="left:677px;">26 Feb 01:30</div>
<div class="dt" style="left:773px;">6 Mar 01:30</div>
<div class="dt" style="left:869px;">14 Mar 01:30</div>
<div class="dt" style="left:965px;">22 Mar 01:30</div>
<div class="dt" style="left:1061px;">1 Apr 01:30</div>
<div class="dt" style="left:1157px;">10 Apr 01:30</div>
<div class="dt" style="left:1253px;">18 Apr 01:30</div>
<div class="abs" style="left:1099px;top:375.5px;font-family:&quot;Noto Sans CJK SC&quot;,&quot;Liberation Sans&quot;,sans-serif;font-size:52.6px;letter-spacing:-2.7px;line-height:72px;color:#ff2112;white-space:nowrap;">多空转折点<span style="font-family:&quot;Liberation Sans&quot;,sans-serif;font-size:52px;letter-spacing:0.2px;margin-left:3.5px;position:relative;top:-3.3px;">3926</span></div>
<div class="abs" style="left:9px;top:62px;width:283px;height:76px;"><div class="abs" style="left:0;top:0;width:283px;height:30px;background:#fff;"></div><div class="abs" style="left:0;top:0;width:67px;height:28px;background:linear-gradient(#fb5454,#e13434);border:1px solid #c61010;border-bottom:none;box-sizing:border-box;"></div><div class="abs" style="left:215px;top:0;width:68px;height:28px;background:linear-gradient(#fb5454,#e13434);border:1px solid #c61010;border-bottom:none;box-sizing:border-box;"></div><div class="abs" style="left:0;top:27px;width:141px;height:49px;background:linear-gradient(#de3232,#b00606);border:1px solid #b00808;border-top:none;box-sizing:border-box;"></div><div class="abs" style="left:143px;top:27px;width:140px;height:49px;background:linear-gradient(#de3232,#b00606);border:1px solid #b00808;border-top:none;box-sizing:border-box;"></div><div class="abs" style="left:4px;top:27px;width:60px;height:1px;background:#b41414;"></div><div class="abs" style="left:4px;top:28px;width:60px;height:1px;background:#ee5a5a;"></div><div class="abs" style="left:219px;top:27px;width:60px;height:1px;background:#b41414;"></div><div class="abs" style="left:219px;top:28px;width:60px;height:1px;background:#ee5a5a;"></div><div class="abs" style="left:70px;top:0;width:143px;height:25px;background:#fff;border:1px solid #a8acb4;box-sizing:border-box;"></div><div class="abs" style="left:71px;top:1px;width:22px;height:23px;background:linear-gradient(#f2f2f2,#cfcfcf);border-right:1px solid #b4b8c0;box-sizing:border-box;"></div><div class="abs" style="left:189px;top:1px;width:23px;height:23px;background:linear-gradient(#f2f2f2,#cfcfcf);border-left:1px solid #b4b8c0;box-sizing:border-box;"></div><svg width="283" height="76" viewBox="0 0 283 76"><path d="M78.5 10.5 L85.5 10.5 L82 14.5 Z" fill="#4a5cb8"/><path d="M196.5 13.5 L204 13.5 L200.2 9.5 Z" fill="#4a5cb8"/></svg><div class="abs" style="left:95px;top:3px;width:89px;height:20px;line-height:20px;font-size:14px;letter-spacing:0.6px;text-align:right;color:#000;">1.00</div><div class="abs" style="left:0;top:3.5px;width:67px;height:20px;line-height:20px;font-size:13.3px;text-align:center;color:#fff;">SELL</div><div class="abs" style="left:215px;top:3.5px;width:68px;height:20px;line-height:20px;font-size:13.3px;text-align:center;color:#fff;">BUY</div><div class="abs" style="left:30.5px;top:52.5px;font-size:13px;font-weight:bold;line-height:14px;color:#fff;letter-spacing:1.6px;">3945</div><div class="abs" style="left:72px;top:60px;width:5px;height:5px;background:#fff;border-radius:1px;"></div><div class="abs" style="left:80.5px;top:30.5px;font-size:40px;line-height:40px;color:#fff;transform:scaleX(0.9);transform-origin:0 0;">5</div><div class="abs" style="left:172.5px;top:52.5px;font-size:13px;font-weight:bold;line-height:14px;color:#fff;letter-spacing:1.6px;">3951</div><div class="abs" style="left:215px;top:60px;width:5px;height:5px;background:#fff;border-radius:1px;"></div><div class="abs" style="left:222px;top:30px;font-size:40px;line-height:40px;color:#fff;">1</div></div>
</body></html>
